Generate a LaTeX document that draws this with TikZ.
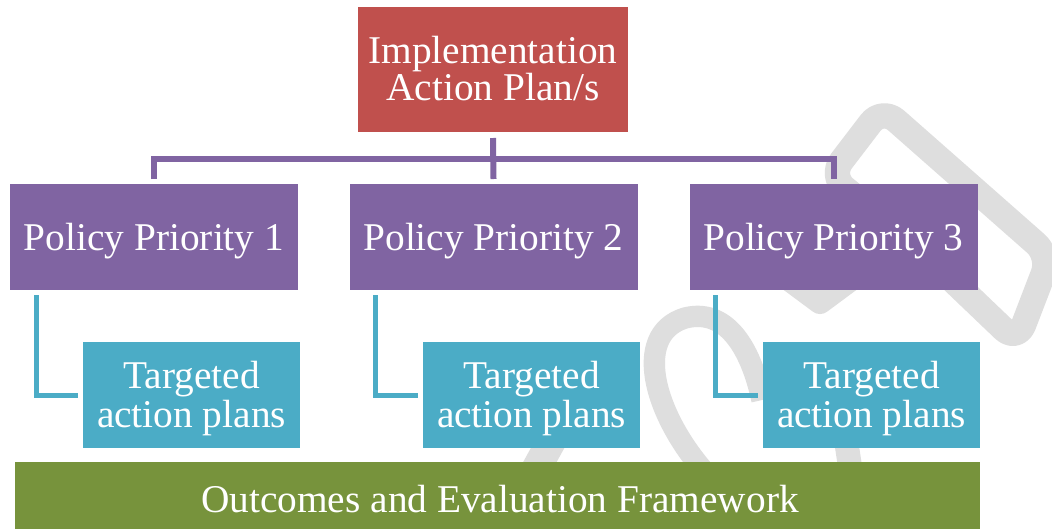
\documentclass[tikz,border=0pt]{standalone}
\usepackage{fontspec}
\setmainfont{Liberation Serif}
\usetikzlibrary{calc}
\definecolor{cred}{HTML}{C0504D}
\definecolor{cpur}{HTML}{8064A2}
\definecolor{cblu}{HTML}{4BACC6}
\definecolor{cgrn}{HTML}{77933C}
\definecolor{cwm}{HTML}{DEDEDE}
\begin{document}
\begin{tikzpicture}[x=0.75pt,y=-0.75pt,
  box/.style={draw=none, inner sep=0pt, outer sep=0pt, rectangle},
  redbox/.style={box, fill=cred, minimum width=202.5pt, minimum height=93.75pt},
  purbox/.style={box, fill=cpur, minimum width=216pt, minimum height=79.5pt},
  blubox/.style={box, fill=cblu, minimum width=162.75pt, minimum height=79.5pt},
  grnbox/.style={box, fill=cgrn, minimum width=723.75pt, minimum height=50.25pt},
  lbl/.style={anchor=base, inner sep=0pt, text=white, font=\fontsize{29.5pt}{30pt}\selectfont},
  purline/.style={draw=cpur, line width=4.5pt, line join=miter},
  bluline/.style={draw=cblu, line width=3.75pt, line join=miter},
  wm/.style={draw=cwm, line width=18pt, line join=round}
]
\useasboundingbox (0,0) rectangle (1052,529);
\fill[white] (0,0) rectangle (1052,529);

% watermark
\draw[wm, line width=19pt, rounded corners=14pt] (926,255) -- (830,176) -- (882,108) -- (1050,256) -- (1017,342) -- cycle;
\draw[wm] (750,250) -- (820,302) -- (890,250);
\draw[wm, line width=16pt] (712,480) .. controls (655,420) and (630,335) .. (685,318) .. controls (725,308) and (750,345) .. (762,400);
\draw[wm] (846,440) -- (852,480);
\draw[wm, line width=22pt] (552,440) -- (530,480);

% boxes
\node[redbox] (top) at (493,69.5) {};
\node[purbox] (p1) at (154,237) {};
\node[purbox] (p2) at (493.5,237) {};
\node[purbox] (p3) at (833.5,237) {};
\node[blubox] (t1) at (191.5,395) {};
\node[blubox] (t2) at (531.5,395) {};
\node[blubox] (t3) at (871.5,395) {};
\node[grnbox] (out) at (497.5,495.5) {};

% labels
\node[lbl] (topA) at (493,63) {Implementation};
\node[lbl] (topB) at (493,100) {Action Plan/s};
\node[lbl] (p1l) at (154,250) {Policy Priority 1};
\node[lbl] (p2l) at (493.5,250) {Policy Priority 2};
\node[lbl] (p3l) at (833.5,250) {Policy Priority 3};
\node[lbl] (t1a) at (191.5,388) {Targeted};
\node[lbl] (t1b) at (191.5,427) {action plans};
\node[lbl] (t2a) at (531.5,388) {Targeted};
\node[lbl] (t2b) at (531.5,427) {action plans};
\node[lbl] (t3a) at (871.5,388) {Targeted};
\node[lbl] (t3b) at (871.5,427) {action plans};
\node[lbl] (outl) at (500,512) {Outcomes and Evaluation Framework};

% connectors
\draw[purline] ($(top.south)+(0,6)$) -- ($(p2.north)+(0,-5)$);
\draw[purline] ($(p1.north)+(0,-5)$) |- ($(p3.north)+(0,-25.5)$) -- ($(p3.north)+(0,-5)$);
\draw[bluline] ($(p1.south west)+(26,5)$) |- ($(t1.west)+(-5,0)$);
\draw[bluline] ($(p2.south west)+(26,5)$) |- ($(t2.west)+(-5,0)$);
\draw[bluline] ($(p3.south west)+(26,5)$) |- ($(t3.west)+(-5,0)$);
\end{tikzpicture}
\end{document}
